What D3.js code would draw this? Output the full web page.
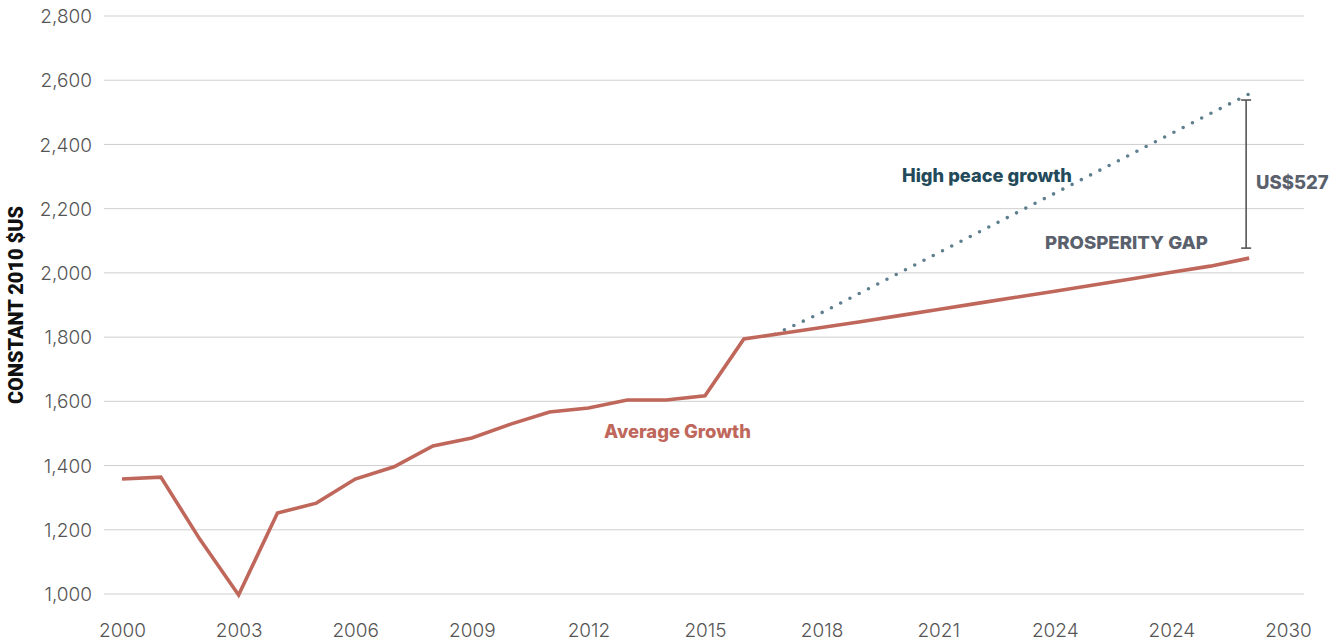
<!DOCTYPE html>
<html><head><meta charset="utf-8">
<script src="https://cdn.jsdelivr.net/npm/d3@7"></script>
<style>
html,body{margin:0;padding:0;background:#fff;}
svg{display:block;font-family:Inter, "Open Sans", sans-serif;}
</style></head>
<body>
<svg id="chart" width="1343" height="640"></svg>
<script>
// ---- data ----
const years = [2000,2001,2002,2003,2004,2005,2006,2007,2008,2009,2010,2011,2012,2013,2014,2015,2016,2017,2018,2019,2020,2021,2022,2023,2024,2025,2026,2027,2028,2029];
const averageGrowth = [1358,1364,1171,997,1252,1283,1358,1396,1461,1486,1529,1567,1579,1604,1604,1617,1794,1812,1830,1848,1867,1886,1905,1924,1943,1962,1982,2002,2021,2046];
const peaceYears = [2016.8,2018,2019,2020,2021,2022,2023,2024,2025,2026,2027,2028,2029];
const highPeaceGrowth = [1809,1876,1938,2000,2062,2124,2186,2248,2310,2372,2434,2496,2557];
const xTickValues = [2000,2003,2006,2009,2012,2015,2018,2021,2024,2027,2030];
const xTickLabels = ["2000","2003","2006","2009","2012","2015","2018","2021","2024","2024","2030"];
const yTickValues = [1000,1200,1400,1600,1800,2000,2200,2400,2600,2800];
const gapLabel = "US$527";

// ---- scales ----
const svg = d3.select("#chart");
const x = d3.scaleLinear().domain([2000,2030]).range([122,1288]);
const y = d3.scaleLinear().domain([1000,2800]).range([594,16]);
const gridLeft = 104, gridRight = 1304;

// grid
svg.append("g").selectAll("line").data(yTickValues).join("line")
  .attr("x1",gridLeft).attr("x2",gridRight)
  .attr("y1",d=>y(d)).attr("y2",d=>y(d))
  .attr("stroke","#cfcfcf").attr("stroke-width",1);

// y axis labels
const yAxis = d3.axisLeft(y).tickValues(yTickValues).tickFormat(d3.format(",")).tickSize(0).tickPadding(0);
const gy = svg.append("g").attr("transform","translate(92,0)").call(yAxis);
gy.select(".domain").remove();
gy.selectAll("text").attr("font-size",19).attr("font-weight",300).attr("fill","#555").attr("font-family","Inter, sans-serif").attr("dy","0.35em");

// x axis labels
const xAxis = d3.axisBottom(x).tickValues(xTickValues).tickFormat((d,i)=>xTickLabels[i]).tickSize(0).tickPadding(0);
const gx = svg.append("g").attr("transform","translate(0,623)").call(xAxis);
gx.select(".domain").remove();
gx.selectAll("text").attr("font-size",19).attr("font-weight",300).attr("fill","#555").attr("font-family","Inter, sans-serif").attr("dy","0.71em");

// y title
svg.append("text")
  .attr("transform","translate(23,305) rotate(-90)")
  .attr("text-anchor","middle")
  .attr("font-family","Roboto, sans-serif")
  .attr("font-size",20).attr("font-weight",900).attr("fill","#111")
  .attr("textLength",198).attr("lengthAdjust","spacingAndGlyphs")
  .text("CONSTANT 2010 $US");

// dotted high peace line
const line = d3.line().x(d=>x(d[0])).y(d=>y(d[1]));
svg.append("path")
  .datum(peaceYears.map((yr,i)=>[yr,highPeaceGrowth[i]]))
  .attr("d",line).attr("fill","none")
  .attr("stroke","#5e7f8e").attr("stroke-width",3.6)
  .attr("stroke-linecap","round").attr("stroke-dasharray","0 10.4");

// solid average line
svg.append("path")
  .datum(years.map((yr,i)=>[yr,averageGrowth[i]]))
  .attr("d",line).attr("fill","none")
  .attr("stroke","#c0675c").attr("stroke-width",3.6)
  .attr("stroke-linejoin","miter");

// gap bracket
const last = years.length-1;
const bx = x(2029)-3;
const bTop = y(highPeaceGrowth[highPeaceGrowth.length-1])+6;
const bBot = y(averageGrowth[last])-10;
const br = svg.append("g").attr("stroke","#555").attr("stroke-width",1.6);
br.append("line").attr("x1",bx).attr("x2",bx).attr("y1",bTop).attr("y2",bBot);
br.append("line").attr("x1",bx-5).attr("x2",bx+5).attr("y1",bTop).attr("y2",bTop);
br.append("line").attr("x1",bx-5).attr("x2",bx+5).attr("y1",bBot).attr("y2",bBot);

// annotations
svg.append("text").attr("x",1256).attr("y",189).attr("font-size",18.5).attr("font-weight",800)
  .attr("fill","#5a616d").text(gapLabel);
svg.append("text").attr("x",1208).attr("y",249).attr("text-anchor","end").attr("font-size",18).attr("font-weight",800)
  .attr("fill","#5a616d").attr("textLength",163).attr("lengthAdjust","spacingAndGlyphs").text("PROSPERITY GAP");
svg.append("text").attr("x",1072).attr("y",182).attr("text-anchor","end").attr("font-size",18.3).attr("font-weight",800)
  .attr("fill","#234a5a").text("High peace growth");
svg.append("text").attr("x",604).attr("y",438).attr("font-size",18.4).attr("font-weight",800)
  .attr("fill","#c0675c").text("Average Growth");
</script>
</body></html>
